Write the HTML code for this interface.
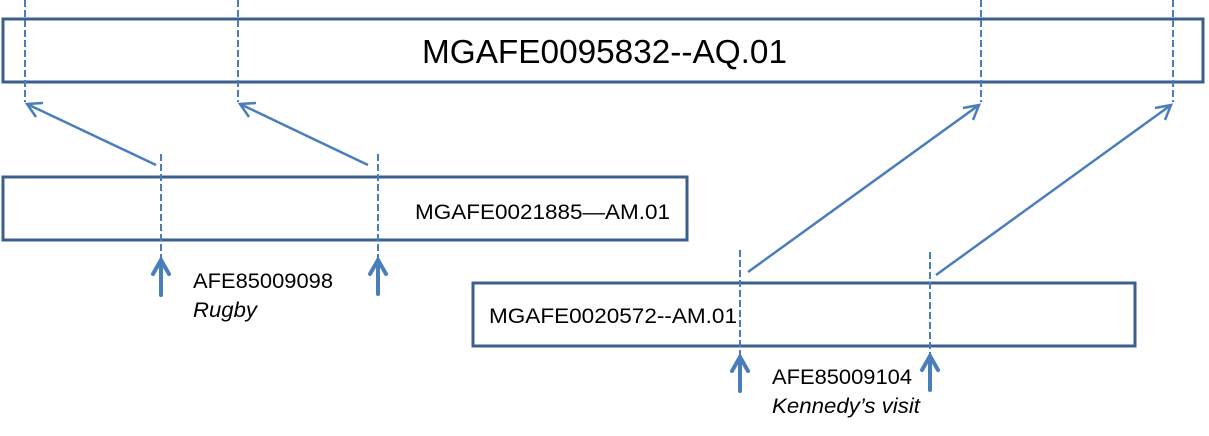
<!DOCTYPE html>
<html><head><style>body{margin:0;background:#fff}svg{display:block}</style></head><body>
<svg width="1209" height="436" xmlns="http://www.w3.org/2000/svg" font-family="Liberation Sans, sans-serif">
<g fill="none" stroke="#3b5e8c" stroke-width="3">
<rect x="3" y="19" width="1200" height="63"/>
<rect x="3" y="177" width="684" height="63"/>
<rect x="473" y="283" width="662" height="63"/>
</g>
<g stroke="#4a7ebb" stroke-width="2" stroke-dasharray="7,3" fill="none">
<line x1="25" y1="0" x2="25" y2="102"/>
<line x1="238" y1="0" x2="238" y2="102"/>
<line x1="981" y1="0" x2="981" y2="102"/>
<line x1="1173" y1="0" x2="1173" y2="102"/>
<line x1="161" y1="154" x2="161" y2="258"/>
<line x1="378" y1="154" x2="378" y2="258"/>
<line x1="740" y1="250" x2="740" y2="355"/>
<line x1="930" y1="252" x2="930" y2="355"/>
</g>
<g stroke="#4a7ebb" stroke-width="2.5" fill="none">
<line x1="156" y1="165" x2="27" y2="104"/>
<polyline points="36,117 27,104 43,103"/>
<line x1="368" y1="165" x2="240" y2="104"/>
<polyline points="249,117 240,104 256,103"/>
<line x1="748" y1="272" x2="979" y2="105"/>
<polyline points="963,108 979,105 973,120"/>
<line x1="936" y1="275" x2="1171" y2="105"/>
<polyline points="1155,108 1171,105 1165,120"/>
</g>
<g stroke="#4a7ebb" stroke-width="4" fill="none" stroke-linecap="round">
<line x1="161" y1="295" x2="161" y2="260"/><polyline points="153,274 161,260 169,274"/>
<line x1="378" y1="294" x2="378" y2="260"/><polyline points="370,274 378,260 386,274"/>
<line x1="740" y1="391" x2="740" y2="357"/><polyline points="732,371 740,357 748,371"/>
<line x1="930" y1="390" x2="930" y2="356"/><polyline points="922,370 930,356 938,370"/>
</g>
<g fill="#000">
<text x="422" y="63" font-size="33" textLength="365" lengthAdjust="spacingAndGlyphs">MGAFE0095832--AQ.01</text>
<text x="415" y="219" font-size="21" textLength="255" lengthAdjust="spacingAndGlyphs">MGAFE0021885—AM.01</text>
<text x="489" y="323" font-size="21" textLength="248" lengthAdjust="spacingAndGlyphs">MGAFE0020572--AM.01</text>
<text x="193" y="288" font-size="21" textLength="140" lengthAdjust="spacingAndGlyphs">AFE85009098</text>
<text x="193" y="317" font-size="21" font-style="italic" textLength="64" lengthAdjust="spacingAndGlyphs">Rugby</text>
<text x="772" y="384" font-size="21" textLength="140" lengthAdjust="spacingAndGlyphs">AFE85009104</text>
<text x="772" y="413" font-size="21" font-style="italic" textLength="148" lengthAdjust="spacingAndGlyphs">Kennedy’s visit</text>
</g>
</svg>
</body></html>
